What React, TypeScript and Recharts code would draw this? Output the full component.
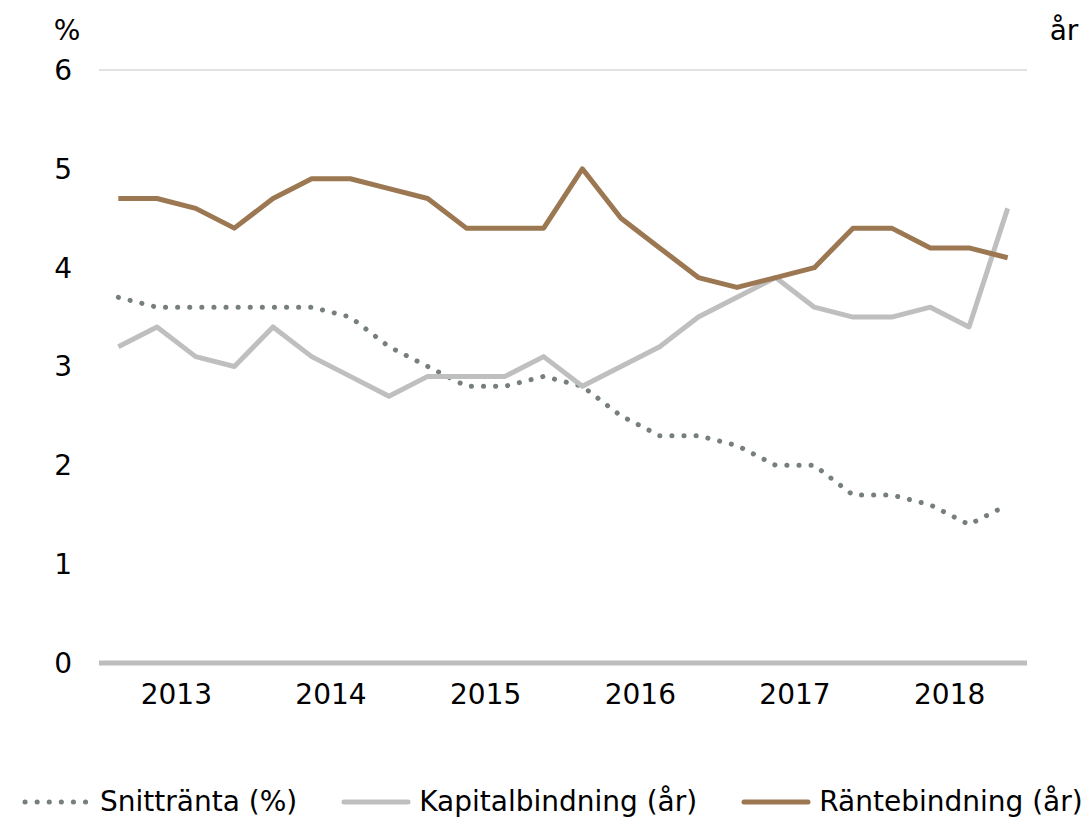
import React from 'react';
import { LineChart, Line, XAxis, YAxis, CartesianGrid, Legend } from 'recharts';

const years = ['2013', '2014', '2015', '2016', '2017', '2018'];
const quarters = years.flatMap((y) => [`${y} K1`, `${y} K2`, `${y} K3`, `${y} K4`]);

const snittranta = [3.7, 3.6, 3.6, 3.6, 3.6, 3.6, 3.5, 3.2, 3.0, 2.8, 2.8, 2.9, 2.8, 2.5, 2.3, 2.3, 2.2, 2.0, 2.0, 1.7, 1.7, 1.6, 1.4, 1.6];
const kapitalbindning = [3.2, 3.4, 3.1, 3.0, 3.4, 3.1, 2.9, 2.7, 2.9, 2.9, 2.9, 3.1, 2.8, 3.0, 3.2, 3.5, 3.7, 3.9, 3.6, 3.5, 3.5, 3.6, 3.4, 4.6];
const rantebindning = [4.7, 4.7, 4.6, 4.4, 4.7, 4.9, 4.9, 4.8, 4.7, 4.4, 4.4, 4.4, 5.0, 4.5, 4.2, 3.9, 3.8, 3.9, 4.0, 4.4, 4.4, 4.2, 4.2, 4.1];

const yTicks = [0, 1, 2, 3, 4, 5, 6];

const legendOrder = ['Snittränta (%)', 'Kapitalbindning (år)', 'Räntebindning (år)'];

const data = quarters.map((q, i) => ({
  i,
  q,
  snitt: snittranta[i],
  kapital: kapitalbindning[i],
  ranta: rantebindning[i],
}));

// year labels sit in the middle of each group of four quarters
const yearTicks = years.map((_, k) => k * 4 + 1.5);

const FONT = "'DejaVu Sans', Verdana, sans-serif";
const FS = 28;
const tickStyle = { fill: '#000', fontSize: FS, fontFamily: FONT };

const LegendContent = (props: any) => {
  const payload = [...(props.payload || [])].sort(
    (a: any, b: any) => legendOrder.indexOf(a.value) - legendOrder.indexOf(b.value)
  );
  return (
    <div style={{ display: 'flex', alignItems: 'center', paddingLeft: 22, fontFamily: FONT, fontSize: FS, color: '#000', whiteSpace: 'nowrap' }}>
      {payload.map((entry: any) => (
        <div key={entry.value} style={{ display: 'flex', alignItems: 'center', marginRight: 44, flexShrink: 0 }}>
          <svg width={70} height={10} style={{ marginRight: 8 }}>
            <line
              x1={3}
              y1={5}
              x2={67}
              y2={5}
              stroke={entry.color}
              strokeWidth={5}
              strokeLinecap="round"
              strokeDasharray={entry.payload?.strokeDasharray}
            />
          </svg>
          <span>{entry.value}</span>
        </div>
      ))}
    </div>
  );
};

const UnitLabel = (text: string, dx: number) => (props: any) => {
  const vb = props.viewBox || {};
  return (
    <text x={vb.x + dx} y={vb.y - 40} textAnchor="middle" dominantBaseline="central" fill="#000" fontSize={FS} fontFamily={FONT}>
      {text}
    </text>
  );
};

export default function App() {
  return (
    <div style={{ position: 'absolute', left: 0, top: 0 }}>
      <LineChart width={1089} height={819} data={data} margin={{ top: 70, right: 0, bottom: 0, left: 0 }}>
        <CartesianGrid vertical={false} stroke="#c4c4c4" strokeWidth={1} />
        <XAxis
          dataKey="i"
          type="number"
          domain={[-0.5, 23.5]}
          ticks={yearTicks}
          tickFormatter={(v: number) => years[Math.round((v - 1.5) / 4)]}
          axisLine={{ stroke: '#bdbdbd', strokeWidth: 5 }}
          tickLine={false}
          tickSize={0}
          tickMargin={21}
          tick={tickStyle}
          height={122}
          interval={0}
        />
        <YAxis
          yAxisId="left"
          orientation="left"
          domain={[0, 6]}
          ticks={yTicks}
          width={99}
          axisLine={false}
          tickLine={false}
          tickSize={0}
          tickMargin={27}
          tick={tickStyle}
          label={{ content: UnitLabel('%', 67) }}
        />
        <YAxis
          yAxisId="right"
          orientation="right"
          domain={[0, 6]}
          ticks={yTicks}
          width={62}
          axisLine={false}
          tickLine={false}
          tickSize={0}
          tickMargin={26}
          tick={tickStyle}
          label={{ content: UnitLabel('år', 37) }}
        />
        <Line
          yAxisId="left"
          dataKey="snitt"
          name="Snittränta (%)"
          stroke="#767f7a"
          strokeWidth={5}
          strokeDasharray="0.1 12"
          strokeLinecap="round"
          dot={false}
          isAnimationActive={false}
        />
        <Line
          yAxisId="left"
          dataKey="kapital"
          name="Kapitalbindning (år)"
          stroke="#bfbfbf"
          strokeWidth={5}
          strokeLinejoin="round"
          dot={false}
          isAnimationActive={false}
        />
        <Line
          yAxisId="left"
          dataKey="ranta"
          name="Räntebindning (år)"
          stroke="#9b7752"
          strokeWidth={5}
          strokeLinejoin="round"
          dot={false}
          isAnimationActive={false}
        />
        <Legend verticalAlign="bottom" align="left" height={34} content={<LegendContent />} />
      </LineChart>
    </div>
  );
}
